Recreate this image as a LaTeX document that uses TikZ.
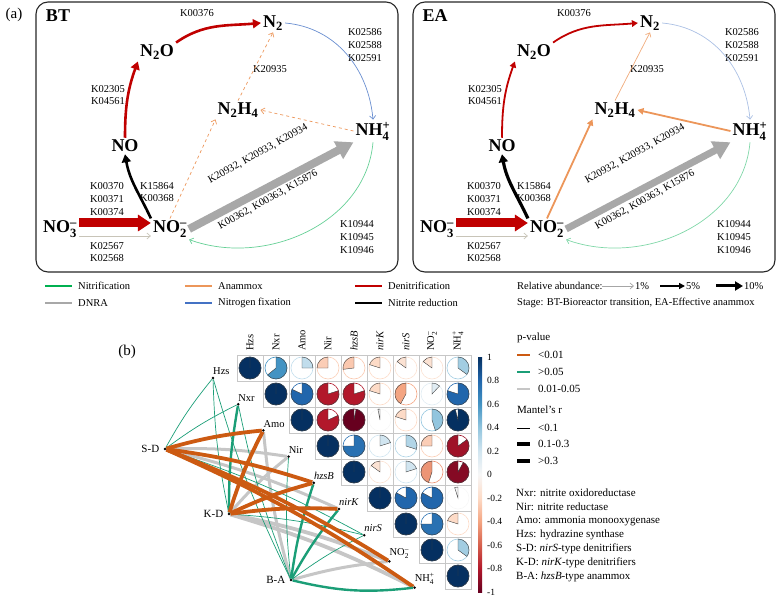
\documentclass[tikz,border=0pt]{standalone}
\usepackage{amsmath}
\usepackage{fontspec}
\setmainfont{Liberation Serif}
\usetikzlibrary{arrows.meta, positioning, calc, backgrounds}

% pathway colours
\definecolor{denit}{RGB}{192,0,0}
\definecolor{nitrif}{RGB}{0,176,80}
\definecolor{anamx}{RGB}{236,150,90}
\definecolor{dnra}{RGB}{168,168,168}
\definecolor{nfix}{RGB}{68,114,196}
\definecolor{napgray}{RGB}{200,196,184}
% mantel colours
\definecolor{mOrange}{RGB}{204,90,18}
\definecolor{mGreen}{RGB}{27,158,119}
\definecolor{mGray}{RGB}{198,198,198}
% RdBu scale
\definecolor{b10}{HTML}{053061}
\definecolor{b8}{HTML}{2166AC}
\definecolor{b6}{HTML}{4393C3}
\definecolor{b4}{HTML}{92C5DE}
\definecolor{b2}{HTML}{D1E5F0}
\definecolor{w0}{HTML}{F7F7F7}
\definecolor{r2}{HTML}{FDDBC7}
\definecolor{r4}{HTML}{F4A582}
\definecolor{r6}{HTML}{D6604D}
\definecolor{r8}{HTML}{B2182B}
\definecolor{r10}{HTML}{67001F}
\pgfdeclareverticalshading{rdbu}{20bp}{color(0bp)=(r10); color(25bp)=(r10); color(30bp)=(r8); color(35bp)=(r6); color(40bp)=(r4); color(45bp)=(r2); color(50bp)=(w0); color(55bp)=(b2); color(60bp)=(b4); color(65bp)=(b6); color(70bp)=(b8); color(75bp)=(b10); color(100bp)=(b10)}

\begin{document}
\begin{tikzpicture}[x=1pt, y=1pt,
    chem/.style = {font=\fontsize{18}{20}\selectfont\bfseries, inner sep=2pt},
    ptitle/.style = {font=\fontsize{18}{20}\selectfont\bfseries, inner sep=0pt},
    ktext/.style = {font=\fontsize{10.5}{12.8}\selectfont, align=center, inner sep=1pt},
    tagtext/.style = {font=\fontsize{15}{16}\selectfont, inner sep=0pt},
    panelbox/.style = {draw=black!85, line width=1.1pt, rounded corners=12pt},
    legtext/.style = {font=\fontsize{10.5}{12}\selectfont, inner sep=1pt, anchor=west},
    legb/.style = {font=\fontsize{11}{13}\selectfont, inner sep=1pt, anchor=west},
    thinarr/.style = {line width=0.7pt, -{Straight Barb[length=3.5pt, width=6pt]}},
    midarr/.style = {line width=1.8pt, -{Triangle[length=6pt, width=6.5pt]}},
    bigarr/.style = {line width=2.6pt, -{Triangle[length=8pt, width=9pt]}},
    fatarr/.style = {line width=8pt, -{Triangle[length=17pt, width=19pt]}},
    redarr/.style = {line width=9pt, -{Triangle[length=13pt, width=16pt]}},
    gridline/.style = {draw=black!22, line width=0.5pt},
    coltitle/.style = {font=\fontsize{10.5}{12}\selectfont, rotate=90, anchor=west, inner sep=1pt},
    cbtick/.style = {font=\fontsize{9.5}{11}\selectfont, anchor=west, inner sep=1pt},
    envdot/.style = {circle, fill=black, inner sep=0pt, minimum size=2.8pt},
    envlab/.style = {font=\fontsize{10.5}{12}\selectfont, anchor=south west, inner sep=1pt, xshift=-1pt, yshift=2pt},
    grplab/.style = {font=\fontsize{11}{13}\selectfont, inner sep=1pt},
    grnthin/.style = {mGreen, line width=0.7pt},
    grnmid/.style = {mGreen, line width=2.4pt},
    grymid/.style = {mGray, line width=3pt},
    grythick/.style = {mGray, line width=3.8pt},
    orgthick/.style = {mOrange, line width=3.8pt}
]
\useasboundingbox (0,0) rectangle (777,-596);

% (a) nitrogen cycle, BT and EA
\node[tagtext] (tag-a) at (14,-15) {(a)};
\foreach \p/\dx/\T in {bt/0/BT, ea/377/EA}{
\begin{scope}[xshift=\dx]
  \draw[panelbox] (36,-2) rectangle (398,-272);
  \node[ptitle] (\p-title) at (58,-16) {\T};
  \node[chem] (\p-n2)   at (273,-23)  {N$_\text{2}$};
  \node[chem] (\p-n2o)  at (157,-52)  {N$_\text{2}$O};
  \node[chem] (\p-n2h4) at (238,-110) {N$_\text{2}$H$_\text{4}$};
  \node[chem] (\p-nh4)  at (373,-131) {NH$_\text{4}^\text{+}$};
  \node[chem] (\p-no)   at (125,-146) {NO};
  \node[chem] (\p-no3)  at (60,-229)  {NO$_\text{3}^\text{–}$};
  \node[chem] (\p-no2)  at (170,-229) {NO$_\text{2}^\text{–}$};
  % gene labels
  \node[ktext] (\p-k1) at (197,-13)  {K00376};
  \node[ktext] (\p-k2) at (108,-95)  {K02305\\K04561};
  \node[ktext] (\p-k3) at (270,-69)  {K20935};
  \node[ktext] (\p-k4) at (365,-45)  {K02586\\K02588\\K02591};
  \node[ktext] (\p-k5) at (157,-192) {K15864\\K00368};
  \node[ktext] (\p-k6) at (107,-199) {K00370\\K00371\\K00374};
  \node[ktext] (\p-k7) at (107,-252) {K02567\\K02568};
  \node[ktext] (\p-k8) at (357,-237) {K10944\\K10945\\K10946};
  \node[ktext, rotate=29] (\p-k9)  at (258,-154) {K20932, K20933, K20934};
  \node[ktext, rotate=29] (\p-k10) at (268,-200) {K00362, K00363, K15876};
\end{scope}}

% BT fluxes
\draw[denit, redarr] ([yshift=6pt]bt-no3.east) -- ([yshift=6pt]bt-no2.west);
\draw[napgray, thinarr] ([yshift=-7pt]bt-no3.east) -- ([yshift=-7pt]bt-no2.west);
\draw[black, bigarr] (bt-no2.north west) to[out=115, in=-80] (bt-no.south);
\draw[denit, bigarr] (bt-no.north) to[out=90, in=250] (bt-n2o.south west);
\draw[denit, bigarr] (bt-n2o.north east) to[out=35, in=185] (bt-n2.west);
\draw[nfix!80, thinarr] (bt-n2.east) to[out=-5, in=95] (bt-nh4.north);
\draw[nitrif!60, thinarr] (bt-nh4.south) to[out=-95, in=-20] (bt-no2.south east);
\draw[anamx, thinarr, dashed] (bt-no2.north) -- (bt-n2h4.south west);
\draw[anamx, thinarr, dashed] (bt-n2h4.north) -- (bt-n2.south);
\draw[anamx, thinarr, dashed] (bt-nh4.west) -- (bt-n2h4.east);
\draw[dnra, fatarr] (bt-no2.east) -- (bt-nh4.south west);

% EA fluxes
\draw[denit, redarr] ([yshift=6pt]ea-no3.east) -- ([yshift=6pt]ea-no2.west);
\draw[napgray, thinarr] ([yshift=-7pt]ea-no3.east) -- ([yshift=-7pt]ea-no2.west);
\draw[black, bigarr, line width=3.2pt] (ea-no2.north west) to[out=115, in=-80] (ea-no.south);
\draw[denit, midarr] (ea-no.north) to[out=90, in=250] (ea-n2o.south west);
\draw[denit, midarr] (ea-n2o.north east) to[out=35, in=185] (ea-n2.west);
\draw[nfix!45, thinarr] (ea-n2.east) to[out=-5, in=95] (ea-nh4.north);
\draw[nitrif!50, thinarr] (ea-nh4.south) to[out=-95, in=-20] (ea-no2.south east);
\draw[anamx, midarr] (ea-no2.north) -- (ea-n2h4.south west);
\draw[anamx!80, thinarr] (ea-n2h4.north) -- (ea-n2.south);
\draw[anamx, midarr] (ea-nh4.west) -- (ea-n2h4.east);
\draw[dnra, fatarr, line width=7pt] (ea-no2.east) -- (ea-nh4.south west);

% legend of (a)
\foreach \x/\y/\c/\t in {45/286/nitrif/Nitrification, 185/286/anamx/Anammox, 355/286/denit/Denitrification,
                        45/303/dnra/DNRA, 185/303/nfix/Nitrogen fixation, 355/303/black/Nitrite reduction}{
  \draw[\c, line width=2pt] (\x,-\y) -- ++(27,0) coordinate (leg\x-\y);
  \node[legtext, right=5pt of leg\x-\y] (legt\x-\y) {\t};
}
\node[legtext] (relab) at (516,-286) {Relative abundance:};
\node[legtext] (pc1) at (634,-286) {1\%};
\node[legtext] (pc5) at (685,-286) {5\%};
\node[legtext] (pc10) at (743,-286) {10\%};
\coordinate (a1) at (602,-286);
\coordinate (a5) at (660,-286);
\coordinate (a10) at (716,-286);
\draw[black!35, thinarr] (a1) -- (pc1.west);
\draw[black, line width=1.6pt, -{Triangle[length=6pt, width=6pt]}] (a5) -- (pc5.west);
\draw[black, line width=3pt, -{Triangle[length=8pt, width=9pt]}] (a10) -- (pc10.west);
\node[legtext] (stage) at (516,-303) {Stage: BT-Bioreactor transition, EA-Effective anammox};

% (b) correlation matrix with mantel links
\node[tagtext] (tag-b) at (127,-352) {(b)};
\foreach \i in {1,...,9}
  \foreach \j in {\i,...,9}
    \draw[gridline] ({237+26*(\j-1)},{-355-26*(\i-1)}) rectangle ++(26,-26);

\foreach \i/\j/\r/\c in {
  1/1/1/b10, 1/2/0.64/b6, 1/3/0.25/b4!25!b2, 1/4/-0.25/r4!25!r2, 1/5/-0.27/r4!35!r2,
  1/6/-0.2/r2, 1/7/-0.15/r2!75!w0, 1/8/-0.15/r2!75!w0, 1/9/0.35/b4!75!b2,
  2/2/1/b10, 2/3/0.82/b8, 2/4/-0.8/r8, 2/5/-0.8/r8, 2/6/-0.2/r2, 2/7/-0.42/r4,
  2/8/0.12/b2!60!w0, 2/9/0.8/b8,
  3/3/1/b10, 3/4/-0.82/r8, 3/5/-0.97/r10, 3/6/-0.03/w0, 3/7/-0.2/r2, 3/8/0.45/b4,
  3/9/0.96/b10,
  4/4/1/b10, 4/5/0.75/b8!75!b6, 4/6/0.2/b2, 4/7/0.3/b4!50!b2, 4/8/-0.25/r4!25!r2,
  4/9/-0.85/r8!75!r10,
  5/5/1/b10, 5/6/-0.15/r2!75!w0, 5/7/0.2/b2, 5/8/-0.45/r4!75!r6, 5/9/-0.92/r10!60!r8,
  6/6/1/b10, 6/7/0.83/b8, 6/8/0.83/b8, 6/9/-0.05/w0,
  7/7/1/b10, 7/8/0.75/b8!75!b6, 7/9/-0.2/r2,
  8/8/1/b10, 8/9/0.35/b4!75!b2,
  9/9/1/b10}{
  \pgfmathsetmacro{\px}{250+26*(\j-1)}
  \pgfmathsetmacro{\py}{-368-26*(\i-1)}
  \pgfmathsetmacro{\ea}{90-360*\r}
  \draw[\c, line width=0.6pt] (\px,\py) circle (11pt);
  \filldraw[fill=\c, draw=black!75, line width=0.4pt] (\px,\py) -- ++(90:11pt)
      arc[start angle=90, end angle=\ea, radius=11pt] -- cycle;
}

\foreach \j/\t in {1/Hzs, 2/Nxr, 3/Amo, 4/Nir, 5/\textit{hzsB}, 6/\textit{nirK}, 7/\textit{nirS},
                  8/{NO$_\text{2}^\text{–}$}, 9/{NH$_\text{4}^\text{+}$}}
  \node[coltitle] (col\j) at ({250+26*(\j-1)},-352) {\t};

% colour bar
\shade[shading=rdbu] (475,-592) rectangle (485,-357);
\foreach \v/\s in {1/1, 0.8/0.8, 0.6/0.6, 0.4/0.4, 0.2/0.2, 0/0, -0.2/-0.2, -0.4/-0.4, -0.6/-0.6, -0.8/-0.8, -1/-1}
  \node[cbtick] (cb\s) at (486,{-474.5+117.5*\v}) {\s};

% environment and group nodes
\foreach \i/\t in {1/Hzs, 2/Nxr, 3/Amo, 4/Nir, 5/\textit{hzsB}, 6/\textit{nirK}, 7/\textit{nirS},
                  8/{NO$_\text{2}^\text{–}$}, 9/{NH$_\text{4}^\text{+}$}}{
  \node[envdot] (e\i) at ({213+25.2*(\i-1)},{-378-26.2*(\i-1)}) {};
  \node[envlab] (el\i) at (e\i) {\t};
}
\node[envdot] (sd) at (165,-449) {};
\node[envdot] (kd) at (229,-514) {};
\node[envdot] (ba) at (291,-580) {};
\node[grplab, left=3pt of sd] (sd-lab) {S-D};
\node[grplab, left=3pt of kd] (kd-lab) {K-D};
\node[grplab, left=3pt of ba] (ba-lab) {B-A};

% mantel links
\begin{scope}[on background layer]
\foreach \g/\e/\s in {sd/4/grymid, sd/6/grymid, kd/4/grymid, kd/8/grythick, kd/9/grythick,
                     ba/3/grymid, ba/8/grymid,
                     sd/1/grnthin, sd/2/grnthin, sd/7/grnthin, kd/1/grnthin, kd/2/grnmid, kd/7/grnthin,
                     ba/1/grnthin, ba/2/grnthin, ba/4/grnthin, ba/5/grnmid, ba/6/grnmid, ba/7/grnthin,
                     sd/3/orgthick, sd/5/orgthick, sd/8/orgthick, sd/9/orgthick,
                     kd/3/orgthick, kd/5/orgthick, kd/6/orgthick}
  \draw[\s] (\g) to[bend left=5] (e\e);
\draw[grnmid] (ba) to[bend right=10] (e9);
\end{scope}

% legend of (b)
\node[legb] (pval) at (516,-338) {p-value};
\foreach \y/\s/\t in {355/orgthick/{<0.01}, 372/grnthin/{>0.05}, 389/grythick/{0.01-0.05}}{
  \draw[\s, line width=1.2pt] (517,-\y) -- ++(13,0) coordinate (pl\y);
  \node[legb, right=7pt of pl\y] (plt\y) {\t};
}
\node[legb] (mantel) at (516,-410) {Mantel’s r};
\foreach \y/\w/\t in {428/0.7/{<0.1}, 444/3.5/{0.1-0.3}, 461/4.6/{>0.3}}{
  \draw[black, line width=\w pt] (517,-\y) -- ++(13,0) coordinate (ml\y);
  \node[legb, right=7pt of ml\y] (mlt\y) {\t};
}
\foreach \y/\t in {493/{Nxr: nitrite oxidoreductase}, 507/{Nir: nitrite reductase},
                  521/{Amo: ammonia monooxygenase}, 535/{Hzs: hydrazine synthase},
                  549/{S-D: \textit{nirS}-type denitrifiers}, 563/{K-D: \textit{nirK}-type denitrifiers},
                  577/{B-A: \textit{hzsB}-type anammox}}
  \node[legb] (def\y) at (515,-\y) {\t};

\end{tikzpicture}
\end{document}
